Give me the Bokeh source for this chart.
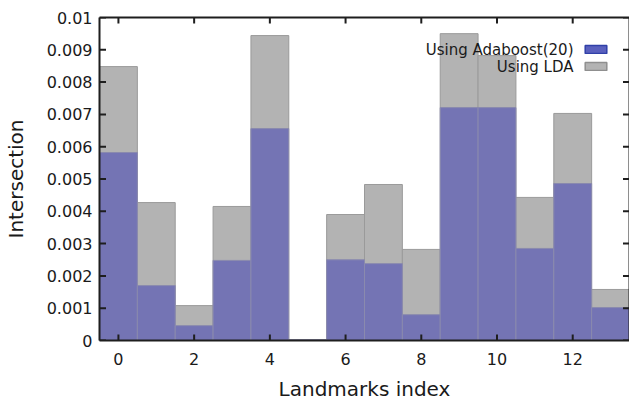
import math
from bokeh.plotting import figure
from bokeh.models import (ColumnDataSource, LinearAxis, FixedTicker, Range1d,
                          Legend, LegendItem, Label)
from bokeh.embed import file_html
from bokeh.resources import INLINE

# ---- data ----
landmarks = list(range(14))
lda = [0.00848, 0.00427, 0.00108, 0.00415, 0.00944, 0.00003, 0.00390,
       0.00483, 0.00282, 0.00950, 0.00882, 0.00443, 0.00703, 0.00158]
adaboost = [0.00582, 0.00170, 0.00046, 0.00248, 0.00656, 0.00002, 0.00250,
            0.00238, 0.00080, 0.00721, 0.00721, 0.00285, 0.00486, 0.00102]
y_ticks = [0.0, 0.001, 0.002, 0.003, 0.004, 0.005, 0.006, 0.007, 0.008, 0.009, 0.01]
y_tick_labels = ["0", "0.001", "0.002", "0.003", "0.004", "0.005", "0.006",
                 "0.007", "0.008", "0.009", "0.01"]
x_ticks = [0, 2, 4, 6, 8, 10, 12]
series_names = ["Using Adaboost(20)", "Using LDA"]
x_lo, x_hi = -0.5, 13.5
y_lo, y_hi = 0.0, 0.01

FONT = "DejaVu Sans"
TXT = "#1a1a1a"
AX = "#1e1e1e"

src = ColumnDataSource(dict(x=landmarks, lda=lda, ada=adaboost))

p = figure(width=629, height=403, output_backend="svg", toolbar_location=None,
           x_range=Range1d(x_lo, x_hi), y_range=Range1d(y_lo, y_hi),
           x_axis_label="Landmarks index", y_axis_label="Intersection",
           min_border_left=0, min_border_right=0, min_border_top=17,
           min_border_bottom=0)
p.outline_line_color = None
p.xgrid.visible = False
p.ygrid.visible = False
p.background_fill_color = "white"

r_lda = p.vbar(x="x", top="lda", width=1.0, source=src, fill_color="#b3b3b3",
               line_color="#9a9a9a", line_width=1)
r_ada = p.vbar(x="x", top="ada", width=1.0, source=src, fill_color="#7474b4",
               line_color="#8a8aae", line_width=1)

# inward tick marks on all four sides: dashes centred on the frame edge,
# the outer half is clipped away by the frame. Anchors are nudged a hair
# inside the ranges so that edge points are never culled.
ex = (x_hi - x_lo) * 1e-6
ey = (y_hi - y_lo) * 1e-6
p.scatter(x=x_ticks, y=[y_lo + ey] * len(x_ticks), marker="dash",
          angle=math.pi / 2, size=12, line_color=AX, line_width=2)
p.scatter(x=x_ticks, y=[y_hi - ey] * len(x_ticks), marker="dash",
          angle=math.pi / 2, size=12, line_color=AX, line_width=2)
p.scatter(x=[x_lo + ex] * len(y_ticks), y=y_ticks, marker="dash",
          size=13, line_color=AX, line_width=2)
p.scatter(x=[x_hi - ex] * len(y_ticks), y=y_ticks, marker="dash",
          size=13, line_color=AX, line_width=2)

def style(ax, labels=True):
    ax.axis_line_color = AX
    ax.axis_line_width = 2
    ax.major_tick_in = 0
    ax.major_tick_out = 0
    ax.minor_tick_in = 0
    ax.minor_tick_out = 0
    ax.major_label_text_font = FONT
    ax.major_label_text_color = TXT
    ax.axis_label_text_font = FONT
    ax.axis_label_text_color = TXT
    ax.axis_label_text_font_style = "normal"
    if not labels:
        ax.major_label_text_font_size = "1px"
        ax.major_label_standoff = 0
        ax.axis_label = None

xa = p.xaxis[0]
xa.ticker = FixedTicker(ticks=x_ticks)
style(xa)
xa.major_label_text_font_size = "16px"
xa.major_label_standoff = 12
xa.axis_label_text_font_size = "20px"
xa.axis_label_standoff = 9

ya = p.yaxis[0]
ya.ticker = FixedTicker(ticks=y_ticks)
ya.major_label_overrides = {t: l for t, l in zip(y_ticks, y_tick_labels)}
style(ya)
ya.major_label_text_font_size = "16px"
ya.major_label_standoff = 7
ya.axis_label_text_font_size = "20px"
ya.axis_label_standoff = 16

top = LinearAxis(ticker=FixedTicker(ticks=x_ticks))
style(top, labels=False)
top.major_label_overrides = {t: "" for t in x_ticks}
p.add_layout(top, "above")

right = LinearAxis(ticker=FixedTicker(ticks=y_ticks))
style(right, labels=False)
right.major_label_overrides = {t: "" for t in y_ticks}
p.add_layout(right, "right")

# legend swatch renderers (not drawn; only their style is shown in the legend)
r_ada_leg = p.vbar(x=[0], top=[0], width=0, fill_color="#5a60be",
                   line_color="#3040a8", line_width=1.5, visible=False)
r_lda_leg = p.vbar(x=[0], top=[0], width=0, fill_color="#b3b3b3",
                   line_color="#8f8f8f", line_width=1.5, visible=False)

legend = Legend(items=[LegendItem(label=" ", renderers=[r_ada_leg]),
                       LegendItem(label=" ", renderers=[r_lda_leg])],
                location=(483, 269), orientation="vertical",
                glyph_width=27, glyph_height=10, label_height=10,
                label_width=0, label_standoff=0, spacing=7, padding=0,
                margin=0, border_line_color=None, background_fill_alpha=0,
                label_text_font_size="1px")
p.add_layout(legend, "center")

for txt, yy in zip(series_names, [291, 274]):
    p.add_layout(Label(x=474, y=yy, x_units="screen", y_units="screen",
                       text=txt, text_align="right", text_baseline="middle",
                       text_font=FONT, text_font_size="15px", text_color=TXT))

open("out.html", "w").write(file_html(p, INLINE))
